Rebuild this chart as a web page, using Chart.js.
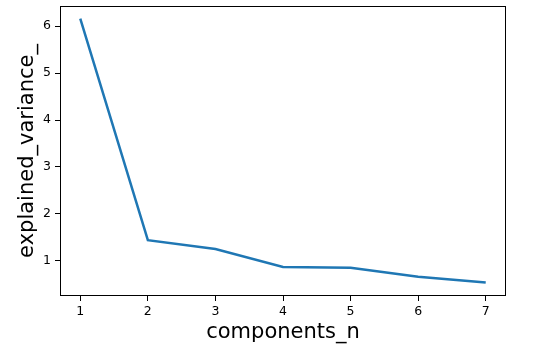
<!DOCTYPE html>
<html>
<head>
<meta charset="utf-8">
<script src="https://cdn.jsdelivr.net/npm/chart.js@4"></script>
<style>
  html, body { margin: 0; padding: 0; background: #fff; }
  #wrap { width: 559px; height: 354px; }
</style>
</head>
<body>
<div id="wrap"><canvas id="chart"></canvas></div>
<script>
const components = [1, 2, 3, 4, 5, 6, 7];
const explainedVariance = [6.16, 1.44, 1.25, 0.87, 0.85, 0.66, 0.54];
const xTicks = [1, 2, 3, 4, 5, 6, 7];
const yTicks = [1, 2, 3, 4, 5, 6];

// box around the plot area, like matplotlib's spines
const frame = {
  id: 'frame',
  afterDraw(chart) {
    const { ctx, chartArea: a } = chart;
    ctx.save();
    ctx.strokeStyle = '#000';
    ctx.lineWidth = 1;
    ctx.strokeRect(a.left + 0.5, a.top + 0.5, a.right - a.left - 1, a.bottom - a.top - 1);
    ctx.restore();
  }
};

const font = { family: 'DejaVu Sans', size: 12.5 };
const titleFont = { family: 'DejaVu Sans', size: 21 };

new Chart(document.getElementById('chart'), {
  type: 'line',
  data: {
    datasets: [{
      data: components.map((c, i) => ({ x: c, y: explainedVariance[i] })),
      borderColor: '#1f77b4',
      borderWidth: 2.5,
      pointRadius: 0,
      tension: 0,
      fill: false,
    }]
  },
  options: {
    responsive: true,
    maintainAspectRatio: false,
    animation: false,
    layout: { padding: { top: 6, right: 53, left: 0, bottom: 0 } },
    plugins: { legend: { display: false }, tooltip: { enabled: false } },
    scales: {
      x: {
        type: 'linear',
        min: 0.7,
        max: 7.3,
        afterBuildTicks: s => { s.ticks = xTicks.map(v => ({ value: v })); },
        afterFit: s => { s.height = 58; },
        grid: { drawOnChartArea: false, tickLength: 5, color: '#000' },
        border: { display: false },
        ticks: { color: '#000', font, padding: 3, maxRotation: 0 },
        title: { display: true, text: 'components_n', color: '#000', font: titleFont, padding: { top: 0, bottom: 9 } }
      },
      y: {
        min: 0.25,
        max: 6.43,
        afterBuildTicks: s => { s.ticks = yTicks.map(v => ({ value: v })); },
        afterFit: s => { s.width = 60; s.paddingTop = 0; s.paddingBottom = 0; },
        grid: { drawOnChartArea: false, tickLength: 5, color: '#000' },
        border: { display: false },
        ticks: { color: '#000', font, padding: 4 },
        title: { display: true, text: 'explained_variance_', color: '#000', font: titleFont, padding: { top: 15, bottom: 0 } }
      }
    }
  },
  plugins: [frame]
});
</script>
</body>
</html>
